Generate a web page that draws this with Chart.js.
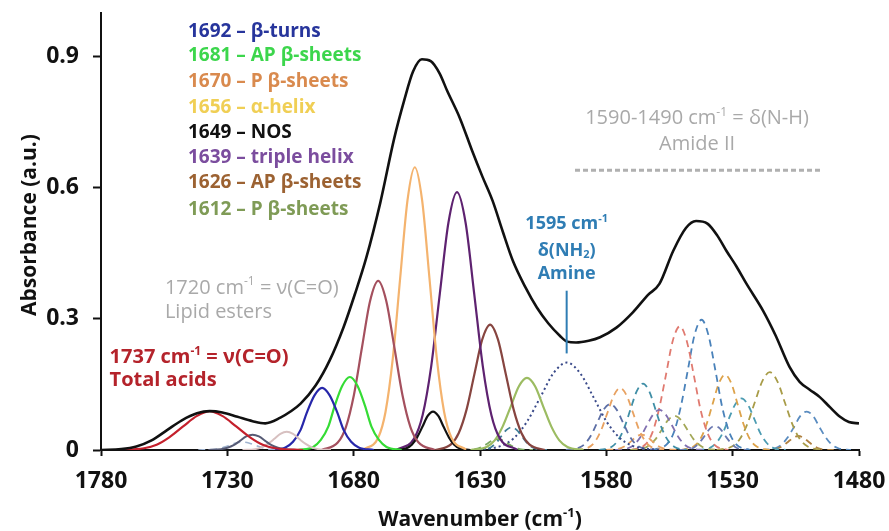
<!DOCTYPE html>
<html><head><meta charset="utf-8">
<script src="https://cdn.jsdelivr.net/npm/chart.js@4.4.1/dist/chart.umd.min.js"></script>
<style>html,body{margin:0;padding:0;background:#fff;}#wrap{width:889px;height:531px;}</style>
</head><body><div id="wrap"><canvas id="c" width="889" height="531"></canvas></div>
<script>
// ---- axis ticks ----
const xTicks = [1780, 1730, 1680, 1630, 1580, 1530, 1480];
const yTicks = [0, 0.3, 0.6, 0.9];

// ---- measured total spectrum (black) ----
const wnTotal  = [1780,1772,1766,1760,1754,1748,1742,1737,1732,1726,1720,1715,1709,1705,1701,1695,1689.5,1684,1679.5,1675,1669.5,1664,1660,1656.5,1653,1649.5,1646,1643,1638,1633,1629,1625,1621,1617,1612,1607.5,1603,1598.5,1595.5,1592,1587,1582.5,1576,1569.5,1563.5,1559,1553.5,1548.5,1544.5,1540,1536,1532.5,1528.5,1524.5,1518,1513,1507.5,1503.5,1499.5,1495.5,1491.5,1487.5,1484,1480];
const absTotal = [0.000,0.002,0.008,0.022,0.045,0.068,0.084,0.089,0.086,0.076,0.066,0.061,0.074,0.088,0.106,0.148,0.205,0.281,0.357,0.440,0.565,0.712,0.800,0.866,0.894,0.890,0.862,0.822,0.760,0.683,0.625,0.570,0.500,0.433,0.372,0.326,0.290,0.262,0.248,0.246,0.250,0.258,0.280,0.315,0.355,0.380,0.456,0.508,0.524,0.518,0.490,0.456,0.420,0.380,0.319,0.262,0.190,0.156,0.138,0.121,0.098,0.076,0.064,0.061];

// ---- fitted bands, amide I / carbonyl region (solid) ----
const wnAcid1737 = [1774,1763,1758,1753,1747.5,1742,1737,1732,1726.5,1721,1716,1711,1700];
const absAcid1737 = [0,0.004,0.012,0.029,0.054,0.078,0.089,0.078,0.054,0.029,0.012,0.004,0];
const wnEster1720 = [1737.5,1732.5,1730,1727.5,1725,1722.5,1720,1717.5,1715,1712.5,1710,1707.5,1702.5];
const absEster1720 = [0,0.002,0.005,0.011,0.021,0.031,0.035,0.031,0.021,0.011,0.005,0.002,0];
const wnBand1706 = [1724,1719,1716.5,1714,1711.5,1709,1706.5,1704,1701.5,1699,1696.5,1694,1689];
const absBand1706 = [0,0.002,0.006,0.014,0.025,0.037,0.042,0.037,0.025,0.014,0.006,0.002,0];
const wnBand1724 = [1741.5,1736.5,1734,1731.5,1729,1726.5,1724,1721.5,1719,1716.5,1714,1711.5,1706.5];
const absBand1724 = [0,0.001,0.002,0.006,0.011,0.016,0.018,0.016,0.011,0.006,0.002,0.001,0];
const wnTurn1692 = [1713,1707,1704,1701,1698.5,1695.5,1692.5,1689.5,1686.5,1684,1681,1678,1672];
const absTurn1692 = [0,0.006,0.019,0.046,0.086,0.125,0.142,0.125,0.086,0.046,0.019,0.006,0];
const wnAP1681 = [1702,1696,1693,1690,1687.5,1684.5,1681.5,1678.5,1675.5,1673,1670,1667,1661];
const absAP1681 = [0,0.007,0.023,0.054,0.101,0.147,0.167,0.147,0.101,0.054,0.023,0.007,0];
const wnP1670 = [1692.7,1686.3,1683.1,1679.9,1676.7,1673.5,1670.3,1667.1,1663.9,1660.7,1657.5,1654.3,1647.9];
const absP1670 = [0,0.017,0.052,0.126,0.235,0.341,0.387,0.341,0.235,0.126,0.052,0.017,0];
const wnHelix1656 = [1676.1,1670.3,1667.4,1664.5,1661.6,1658.7,1655.8,1652.9,1650,1647.1,1644.2,1641.3,1635.5];
const absHelix1656 = [0.001,0.028,0.087,0.210,0.393,0.571,0.647,0.571,0.393,0.210,0.087,0.028,0.001];
const wnNos1649 = [1663.3,1659.1,1657,1654.9,1652.8,1650.7,1648.6,1646.5,1644.4,1642.3,1640.2,1638.1,1633.9];
const absNos1649 = [0,0.004,0.012,0.029,0.053,0.078,0.088,0.078,0.053,0.029,0.012,0.004,0];
const wnTriple1639 = [1662.9,1656.1,1652.7,1649.3,1645.9,1642.5,1639.1,1635.7,1632.3,1628.9,1625.5,1622.1,1615.3];
const absTriple1639 = [0.001,0.026,0.080,0.192,0.358,0.520,0.590,0.520,0.358,0.192,0.080,0.026,0.001];
const wnAP1626 = [1647.7,1641.5,1638.4,1635.3,1632.2,1629.1,1626,1622.9,1619.8,1616.7,1613.6,1610.5,1604.3];
const absAP1626 = [0,0.013,0.039,0.093,0.174,0.253,0.287,0.253,0.174,0.093,0.039,0.013,0];
const wnP1612 = [1633.8,1627.4,1624.2,1621,1617.8,1614.6,1611.4,1608.2,1605,1601.8,1598.6,1595.4,1589];
const absP1612 = [0,0.007,0.022,0.054,0.100,0.146,0.165,0.146,0.100,0.054,0.022,0.007,0];

// ---- small dashed bands and amine (dotted) ----
const wnBand1623 = [1637,1633,1631,1629,1627,1625,1623,1621,1619,1617,1615,1613,1609];
const absBand1623 = [0,0.001,0.003,0.008,0.015,0.022,0.025,0.022,0.015,0.008,0.003,0.001,0];
const wnBand1617 = [1631.5,1627.5,1625.5,1623.5,1621.5,1619.5,1617.5,1615.5,1613.5,1611.5,1609.5,1607.5,1603.5];
const absBand1617 = [0,0.002,0.007,0.017,0.032,0.046,0.052,0.046,0.032,0.017,0.007,0.002,0];
const wnAmine1595 = [1632.4,1621.9,1616.6,1611.4,1606.1,1600.9,1595.6,1590.4,1585.1,1579.9,1574.6,1569.4,1558.9];
const absAmine1595 = [0,0.009,0.027,0.065,0.121,0.176,0.200,0.176,0.121,0.065,0.027,0.009,0];

// ---- amide II bands (dashed) ----
const wnAm1578 = [1596,1591,1588.5,1586,1583.5,1581,1578.5,1576,1573.5,1571,1568.5,1566,1561];
const absAm1578 = [0,0.005,0.014,0.034,0.064,0.093,0.105,0.093,0.064,0.034,0.014,0.005,0];
const wnAm1574 = [1592,1587,1584.5,1582,1579.5,1577,1574.5,1572,1569.5,1567,1564.5,1562,1557];
const absAm1574 = [0,0.006,0.019,0.046,0.086,0.125,0.142,0.125,0.086,0.046,0.019,0.006,0];
const wnAm1566 = [1580,1576,1574,1572,1570,1568,1566,1564,1562,1560,1558,1556,1552];
const absAm1566 = [0,0.002,0.005,0.011,0.021,0.031,0.035,0.031,0.021,0.011,0.005,0.002,0];
const wnAm1565 = [1583,1578,1575.5,1573,1570.5,1568,1565.5,1563,1560.5,1558,1555.5,1553,1548];
const absAm1565 = [0,0.007,0.021,0.049,0.092,0.134,0.152,0.134,0.092,0.049,0.021,0.007,0];
const wnAm1559 = [1576.5,1571.5,1569,1566.5,1564,1561.5,1559,1556.5,1554,1551.5,1549,1546.5,1541.5];
const absAm1559 = [0,0.004,0.012,0.030,0.056,0.081,0.092,0.081,0.056,0.030,0.012,0.004,0];
const wnAm1553 = [1570.5,1565.5,1563,1560.5,1558,1555.5,1553,1550.5,1548,1545.5,1543,1540.5,1535.5];
const absAm1553 = [0,0.003,0.011,0.025,0.047,0.069,0.078,0.069,0.047,0.025,0.011,0.003,0];
const wnAm1551 = [1570.2,1564.7,1561.9,1559.2,1556.4,1553.7,1550.9,1548.2,1545.4,1542.7,1539.9,1537.2,1531.7];
const absAm1551 = [0,0.012,0.038,0.092,0.172,0.250,0.283,0.250,0.172,0.092,0.038,0.012,0];
const wnAm1542 = [1561.6,1556.1,1553.3,1550.6,1547.8,1545.1,1542.3,1539.6,1536.8,1534.1,1531.3,1528.6,1523.1];
const absAm1542 = [0,0.013,0.040,0.097,0.181,0.263,0.298,0.263,0.181,0.097,0.040,0.013,0];
const wnAm1537 = [1551,1547,1545,1543,1541,1539,1537,1535,1533,1531,1529,1527,1523];
const absAm1537 = [0,0.002,0.007,0.018,0.033,0.049,0.055,0.049,0.033,0.018,0.007,0.002,0];
const wnAm1533 = [1550.5,1545.5,1543,1540.5,1538,1535.5,1533,1530.5,1528,1525.5,1523,1520.5,1515.5];
const absAm1533 = [0,0.008,0.023,0.056,0.104,0.152,0.172,0.152,0.104,0.056,0.023,0.008,0];
const wnAm1526 = [1544,1539,1536.5,1534,1531.5,1529,1526.5,1524,1521.5,1519,1516.5,1514,1509];
const absAm1526 = [0,0.005,0.016,0.038,0.072,0.104,0.118,0.104,0.072,0.038,0.016,0.005,0];
const wnAm1515 = [1536.3,1530.3,1527.3,1524.3,1521.3,1518.3,1515.3,1512.3,1509.3,1506.3,1503.3,1500.3,1494.3];
const absAm1515 = [0,0.008,0.024,0.058,0.108,0.157,0.178,0.157,0.108,0.058,0.024,0.008,0];
const wnAm1504 = [1518,1514,1512,1510,1508,1506,1504,1502,1500,1498,1496,1494,1490];
const absAm1504 = [0,0.001,0.004,0.010,0.019,0.028,0.032,0.028,0.019,0.010,0.004,0.001,0];
const wnAm1501 = [1518.2,1513.2,1510.7,1508.2,1505.7,1503.2,1500.7,1498.2,1495.7,1493.2,1490.7,1488.2,1483.2];
const absAm1501 = [0,0.004,0.012,0.029,0.053,0.078,0.088,0.078,0.053,0.029,0.012,0.004,0];

// ---- legend / annotation text ----
const legendLabels = ['1692 – β-turns','1681 – AP β-sheets','1670 – P β-sheets','1656 – α-helix','1649 – NOS','1639 – triple helix','1626 – AP β-sheets','1612 – P β-sheets'];
const legendColors = ['#27359c','#3cd64c','#d98a4e','#f0cf55','#111111','#7b4d9e','#9c6232','#7f9b56'];

const SOLID = [], DASH = [7,5], DOT = [2,3];
const series = [
  {x: wnTotal, y: absTotal, c: '#111111', w: 2.6, d: SOLID},
  {x: wnAcid1737, y: absAcid1737, c: '#c4202c', w: 2.2, d: SOLID},
  {x: wnEster1720, y: absEster1720, c: '#565a74', w: 2, d: SOLID},
  {x: wnBand1706, y: absBand1706, c: '#d7c0c0', w: 2, d: SOLID},
  {x: wnBand1724, y: absBand1724, c: '#9fb3cf', w: 1.6, d: DASH},
  {x: wnTurn1692, y: absTurn1692, c: '#2727aa', w: 2.2, d: SOLID},
  {x: wnAP1681, y: absAP1681, c: '#35dc35', w: 2.2, d: SOLID},
  {x: wnP1670, y: absP1670, c: '#a4505e', w: 2.2, d: SOLID},
  {x: wnHelix1656, y: absHelix1656, c: '#f4b36e', w: 2.2, d: SOLID},
  {x: wnNos1649, y: absNos1649, c: '#111111', w: 2.2, d: SOLID},
  {x: wnTriple1639, y: absTriple1639, c: '#5e2270', w: 2.2, d: SOLID},
  {x: wnAP1626, y: absAP1626, c: '#874540', w: 2.2, d: SOLID},
  {x: wnP1612, y: absP1612, c: '#9cbc62', w: 2.2, d: SOLID},
  {x: wnBand1623, y: absBand1623, c: '#7aa860', w: 1.8, d: DASH},
  {x: wnBand1617, y: absBand1617, c: '#3f7f98', w: 1.8, d: DASH},
  {x: wnAmine1595, y: absAmine1595, c: '#3a4a8a', w: 2, d: DOT},
  {x: wnAm1578, y: absAm1578, c: '#5d6fa6', w: 1.8, d: DASH},
  {x: wnAm1574, y: absAm1574, c: '#e8a262', w: 1.8, d: DASH},
  {x: wnAm1566, y: absAm1566, c: '#e8a262', w: 1.8, d: DASH},
  {x: wnAm1565, y: absAm1565, c: '#3f8ea6', w: 1.8, d: DASH},
  {x: wnAm1559, y: absAm1559, c: '#8070b0', w: 1.8, d: DASH},
  {x: wnAm1553, y: absAm1553, c: '#a4a858', w: 1.8, d: DASH},
  {x: wnAm1551, y: absAm1551, c: '#e07a70', w: 1.8, d: DASH},
  {x: wnAm1542, y: absAm1542, c: '#4a82ba', w: 1.8, d: DASH},
  {x: wnAm1537, y: absAm1537, c: '#6a78b0', w: 1.8, d: DASH},
  {x: wnAm1533, y: absAm1533, c: '#dda24a', w: 1.8, d: DASH},
  {x: wnAm1526, y: absAm1526, c: '#4c9cb2', w: 1.8, d: DASH},
  {x: wnAm1515, y: absAm1515, c: '#a89c48', w: 1.8, d: DASH},
  {x: wnAm1504, y: absAm1504, c: '#b08040', w: 1.8, d: DASH},
  {x: wnAm1501, y: absAm1501, c: '#5a8cc0', w: 1.8, d: DASH}
];

const datasets = series.map(s => ({
  data: s.x.map((v, i) => ({x: v, y: s.y[i]})),
  borderColor: s.c, borderWidth: s.w, borderDash: s.d,
  pointRadius: 0, fill: false, cubicInterpolationMode: 'monotone'
}));

const FONT = '"Open Sans", "DejaVu Sans", sans-serif';
function drawRich(ctx, segs, x, y, align, size, weight, color) {
  const f = sz => weight + ' ' + sz + 'px ' + FONT;
  let w = 0;
  const parts = segs.map(s => {
    const sz = (s.sup || s.sub) ? Math.round(size * 0.62) : size;
    ctx.font = f(sz);
    const mw = ctx.measureText(s.t).width;
    w += mw;
    return {s, sz, mw};
  });
  let cx = align === 'center' ? x - w / 2 : (align === 'right' ? x - w : x);
  ctx.fillStyle = color; ctx.textAlign = 'left'; ctx.textBaseline = 'middle';
  parts.forEach(p => {
    ctx.font = f(p.sz);
    const dy = p.s.sup ? -size * 0.3 : (p.s.sub ? size * 0.22 : 0);
    ctx.fillText(p.s.t, cx, y + dy);
    cx += p.mw;
  });
}

const annot = {
  id: 'annot',
  afterDraw(chart) {
    const ctx = chart.ctx, xs = chart.scales.x, ys = chart.scales.y;
    const X = v => xs.getPixelForValue(v), Y = v => ys.getPixelForValue(v);
    ctx.save();
    // band legend
    const rows = [0.9585, 0.9016, 0.843, 0.7836, 0.7252, 0.6683, 0.6113, 0.5507];
    legendLabels.forEach((t, i) => drawRich(ctx, [{t}], X(1745.6), Y(rows[i]), 'left', 19, 'bold', legendColors[i]));
    // lipid esters
    drawRich(ctx, [{t:'1720 cm'},{t:'-1',sup:true},{t:' = ν(C=O)'}], X(1754.7), Y(0.371), 'left', 20, 'normal', '#a9a9a9');
    drawRich(ctx, [{t:'Lipid esters'}], X(1754.7), Y(0.315), 'left', 20, 'normal', '#a9a9a9');
    // total acids
    drawRich(ctx, [{t:'1737 cm'},{t:'-1',sup:true},{t:' = ν(C=O)'}], X(1776.6), Y(0.212), 'left', 20, 'bold', '#b4232b');
    drawRich(ctx, [{t:'Total acids'}], X(1776.6), Y(0.159), 'left', 20, 'bold', '#b4232b');
    // amine
    const ac = '#2f7db4';
    drawRich(ctx, [{t:'1595 cm'},{t:'-1',sup:true}], X(1595.7), Y(0.517), 'center', 18, 'bold', ac);
    drawRich(ctx, [{t:'δ(NH'},{t:'2',sub:true},{t:')'}], X(1595.7), Y(0.456), 'center', 18, 'bold', ac);
    drawRich(ctx, [{t:'Amine'}], X(1595.7), Y(0.403), 'center', 18, 'bold', ac);
    ctx.strokeStyle = ac; ctx.lineWidth = 2; ctx.setLineDash([]);
    ctx.beginPath(); ctx.moveTo(X(1595.7), Y(0.3645)); ctx.lineTo(X(1595.7), Y(0.221)); ctx.stroke();
    // amide II
    drawRich(ctx, [{t:'1590-1490 cm'},{t:'-1',sup:true},{t:' = δ(N-H)'}], X(1544.1), Y(0.7587), 'center', 20, 'normal', '#a9a9a9');
    drawRich(ctx, [{t:'Amide II'}], X(1544.1), Y(0.70), 'center', 20, 'normal', '#a9a9a9');
    ctx.strokeStyle = '#b0b0b0'; ctx.lineWidth = 3; ctx.setLineDash([5, 3]);
    ctx.beginPath(); ctx.moveTo(X(1592.4), Y(0.640)); ctx.lineTo(X(1494.7), Y(0.640)); ctx.stroke();
    ctx.setLineDash([]);
    // axis titles
    const ca = chart.chartArea;
    drawRich(ctx, [{t:'Wavenumber (cm'},{t:'-1',sup:true},{t:')'}], (ca.left + ca.right) / 2, 520, 'center', 21, 'bold', '#111');
    ctx.translate(30, 225);
    ctx.rotate(-Math.PI / 2);
    drawRich(ctx, [{t:'Absorbance (a.u.)'}], 0, 0, 'center', 21, 'bold', '#111');
    ctx.restore();
  }
};

const zeroPad = s => { s.paddingTop = 0; s.paddingBottom = 0; s.paddingLeft = 0; s.paddingRight = 0; };

new Chart(document.getElementById('c'), {
  type: 'line',
  data: {datasets},
  options: {
    responsive: false, animation: false, devicePixelRatio: 1,
    layout: {padding: {top: 13, right: 30, left: 0, bottom: 0}},
    plugins: {legend: {display: false}, tooltip: {enabled: false}},
    scales: {
      x: {
        type: 'linear', min: 1480, max: 1780, reverse: true,
        afterBuildTicks: s => { s.ticks = xTicks.map(v => ({value: v})); },
        afterFit: s => { s.height = 81; zeroPad(s); },
        ticks: {autoSkip: false, maxRotation: 0, padding: 12, color: '#111',
                font: {family: FONT, size: 23, weight: 'bold'}, callback: v => String(v)},
        grid: {drawOnChartArea: false, drawTicks: true, tickLength: 6, tickWidth: 2, tickColor: '#111'},
        border: {display: true, color: '#111', width: 2}
      },
      y: {
        type: 'linear', min: 0, max: 1.0,
        afterBuildTicks: s => { s.ticks = yTicks.map(v => ({value: v})); },
        afterFit: s => { s.width = 101; zeroPad(s); },
        ticks: {padding: 14, color: '#111', font: {family: FONT, size: 23, weight: 'bold'},
                callback: v => v === 0 ? '0' : v.toFixed(1)},
        grid: {drawOnChartArea: false, drawTicks: true, tickLength: 8, tickWidth: 2, tickColor: '#111'},
        border: {display: true, color: '#111', width: 2}
      }
    }
  },
  plugins: [annot]
});
</script>
</body></html>
